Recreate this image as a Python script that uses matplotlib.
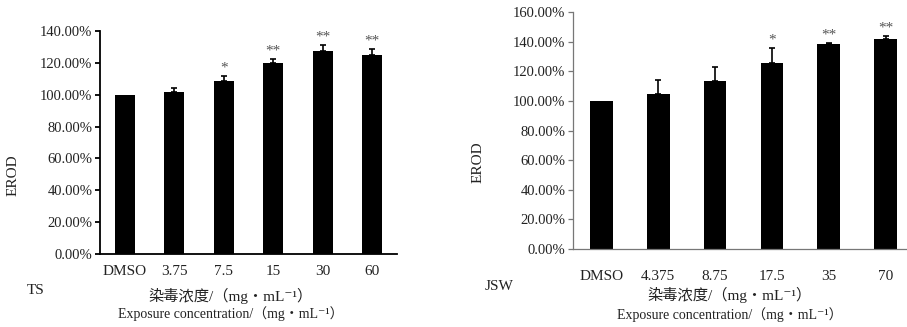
import matplotlib.pyplot as plt
from matplotlib.ticker import FuncFormatter

plt.rcParams['font.family'] = ['Liberation Serif', 'Noto Sans CJK SC', 'DejaVu Serif']

# TS panel
ts_labels = ['DMSO', '3.75', '7.5', '15', '30', '60']
ts_values = [100, 102, 108.6, 119.7, 127.6, 124.9]
ts_err = [0, 2.1, 2.9, 2.7, 3.9, 3.6]
ts_sig = ['', '', '*', '**', '**', '**']

# JSW panel
jsw_labels = ['DMSO', '4.375', '8.75', '17.5', '35', '70']
jsw_values = [100, 104.9, 113.7, 125.7, 138.5, 141.7]
jsw_err = [0, 9.3, 9.5, 9.9, 0.7, 2.0]
jsw_sig = ['', '', '', '*', '**', '**']

pct = FuncFormatter(lambda v, p: f'{v:.2f}%')
text_col = '#222222'


def draw_panel(ax, labels, values, err, sig, ymax, spine_col, spine_w, label_pad):
    x = [i + 0.5 for i in range(len(labels))]
    ax.bar(x, values, width=0.4, color='black')
    # upper error bars only, skipped where there is none
    ex = [xi for xi, e in zip(x, err) if e > 0]
    ey = [v for v, e in zip(values, err) if e > 0]
    ee = [e for e in err if e > 0]
    ax.errorbar(ex, ey, yerr=[[0] * len(ee), ee], fmt='none', ecolor='black',
                elinewidth=1.2, capsize=2.5, capthick=1.2)
    for xi, v, e, s in zip(x, values, err, sig):
        if s:
            ax.annotate(s, (xi, v + e), xytext=(0, 1), textcoords='offset points',
                        ha='center', va='bottom', fontsize=11, color='#555555')
    ax.set_xlim(0, len(labels))
    ax.set_ylim(0, ymax)
    ax.set_yticks(range(0, ymax + 1, 20))
    ax.yaxis.set_major_formatter(pct)
    ax.set_xticks(x)
    ax.set_xticklabels(labels)
    ax.tick_params(axis='x', length=0, pad=label_pad, labelsize=11, labelcolor=text_col)
    ax.tick_params(axis='y', length=3.5, width=spine_w, color=spine_col, pad=2,
                   labelsize=10.5, labelcolor=text_col)
    for side in ['top', 'right']:
        ax.spines[side].set_visible(False)
    for side in ['left', 'bottom']:
        ax.spines[side].set_color(spine_col)
        ax.spines[side].set_linewidth(spine_w)


fig = plt.figure(figsize=(9.07, 3.27), dpi=100)

ax1 = fig.add_axes([100 / 907, 73 / 327, 297 / 907, 223 / 327])
draw_panel(ax1, ts_labels, ts_values, ts_err, ts_sig, 140, 'black', 1.3, 8)

ax2 = fig.add_axes([573 / 907, 78.3 / 327, 341 / 907, 236.4 / 327])
draw_panel(ax2, jsw_labels, jsw_values, jsw_err, jsw_sig, 160, '#777777', 0.9, 15)

# axis titles and panel tags
fig.text(13 / 907, 1 - 175 / 327, 'EROD', rotation=90, ha='center', va='center',
         fontsize=11, color=text_col)
fig.text(478 / 907, 1 - 162 / 327, 'EROD', rotation=90, ha='center', va='center',
         fontsize=11, color=text_col)
fig.text(27 / 907, 1 - 290 / 327, 'TS', ha='left', va='center', fontsize=11, color=text_col)
fig.text(485 / 907, 1 - 287 / 327, 'JSW', ha='left', va='center', fontsize=11, color=text_col)

cn = '染毒浓度/（mg・mL⁻¹）'
en = 'Exposure concentration/（mg・mL⁻¹）'
fig.text(231 / 907, 1 - 296 / 327, cn, ha='center', va='center', fontsize=11, color=text_col)
fig.text(231 / 907, 1 - 314 / 327, en, ha='center', va='center', fontsize=10, color=text_col)
fig.text(730 / 907, 1 - 295 / 327, cn, ha='center', va='center', fontsize=11, color=text_col)
fig.text(730 / 907, 1 - 315 / 327, en, ha='center', va='center', fontsize=10, color=text_col)

fig.savefig('out.png', dpi=100)
